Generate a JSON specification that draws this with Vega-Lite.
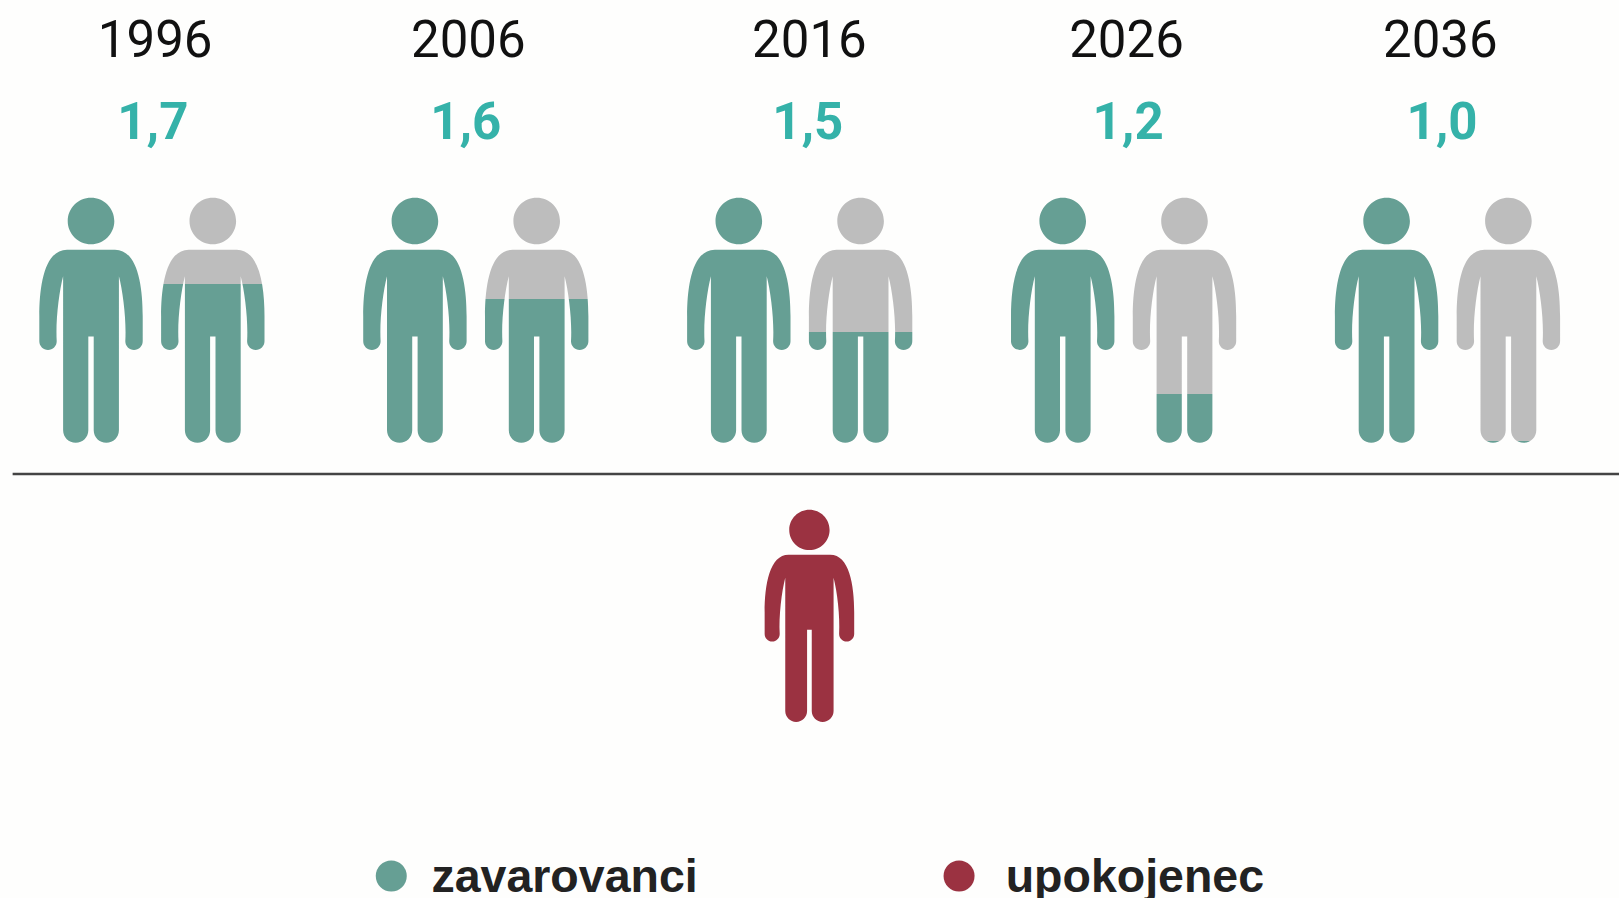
{
"$schema":"https://vega.github.io/schema/vega-lite/v6.json",
"width":1619,"height":898,"padding":0,"autosize":{"type":"none"},
"background":"#fefefd",
"config":{"view":{"stroke":null}},
"params":[{"name":"figure","value":"M0,-122.5 A23.3,23.3 0 1 1 0,-75.9 A23.3,23.3 0 1 1 0,-122.5 Z M-24,-70.5 L24,-70.5 C46,-70.5 51.7,-36 51.7,-4 L51.7,21 A8.7,8.7 0 0 1 34.3,21 C35.5,0 32,-28 27.9,-44 L27.9,110 A12.6,12.6 0 0 1 2.7,110 L2.7,16.2 L-2.7,16.2 L-2.7,110 A12.6,12.6 0 0 1 -27.9,110 L-27.9,-44 C-32,-28 -35.5,0 -34.3,21 A8.7,8.7 0 0 1 -51.7,21 L-51.7,-4 C-51.7,-36 -46,-70.5 -24,-70.5 Z"}],
"datasets":{
"people":[
{"year":1996,"pos":1994.12,"lane":320.2,"share":1},
{"year":1996,"pos":1997.88,"lane":320.2,"share":0.648},
{"year":2006,"pos":2004.12,"lane":320.2,"share":1},
{"year":2006,"pos":2007.88,"lane":320.2,"share":0.587},
{"year":2016,"pos":2014.12,"lane":320.2,"share":1},
{"year":2016,"pos":2017.88,"lane":320.2,"share":0.453},
{"year":2026,"pos":2024.12,"lane":320.2,"share":1},
{"year":2026,"pos":2027.88,"lane":320.2,"share":0.2},
{"year":2036,"pos":2034.12,"lane":320.2,"share":1},
{"year":2036,"pos":2037.88,"lane":320.2,"share":0.007}
],
"retiree":[{"pos":2016.3,"lane":615.8}],
"years":[
{"label":"1996","ratio":"1,7","pos":1996.1,"ratioPos":1996.03,"yearLane":57,"ratioLane":139},
{"label":"2006","ratio":"1,6","pos":2005.77,"ratioPos":2005.69,"yearLane":57,"ratioLane":139},
{"label":"2016","ratio":"1,5","pos":2016.3,"ratioPos":2016.25,"yearLane":57,"ratioLane":139},
{"label":"2026","ratio":"1,2","pos":2026.09,"ratioPos":2026.14,"yearLane":57,"ratioLane":139},
{"label":"2036","ratio":"1,0","pos":2035.78,"ratioPos":2035.83,"yearLane":57,"ratioLane":139}
],
"axisLine":[{"from":1991.7,"to":2041.295,"lane":474}],
"legend":[
{"name":"zavarovanci","dot":2003.39,"textPos":2004.63,"lane":876,"base":891.5},
{"name":"upokojenec","dot":2020.92,"textPos":2022.36,"lane":876,"base":891.5}
]
},
"layer":[
{"data":{"name":"people"},"transform":[{"filter":"datum.share==1"}],
 "mark":{"type":"point","filled":true,"opacity":1,"size":4,"strokeWidth":0,"fill":"#669f94","shape":{"expr":"figure"}},
 "encoding":{
  "x":{"field":"pos","type":"quantitative","scale":{"domain":[1991.31,2041.295],"range":[0,1619]},"axis":null},
  "y":{"field":"lane","type":"quantitative","scale":{"domain":[0,898],"range":[0,898]},"axis":null}}},
{"data":{"name":"people"},"transform":[{"filter":"datum.year==1996&&datum.share<1"}],
 "mark":{"type":"point","filled":true,"opacity":1,"size":4,"strokeWidth":0,"shape":{"expr":"figure"},
  "fill":{"gradient":"linear","x1":0,"y1":0,"x2":0,"y2":1,"stops":[{"offset":0,"color":"#bdbdbd"},{"offset":0.352,"color":"#bdbdbd"},{"offset":0.352,"color":"#669f94"},{"offset":1,"color":"#669f94"}]}},
 "encoding":{"x":{"field":"pos","type":"quantitative","scale":{"domain":[1991.31,2041.295],"range":[0,1619]},"axis":null},"y":{"field":"lane","type":"quantitative","scale":{"domain":[0,898],"range":[0,898]},"axis":null}}},
{"data":{"name":"people"},"transform":[{"filter":"datum.year==2006&&datum.share<1"}],
 "mark":{"type":"point","filled":true,"opacity":1,"size":4,"strokeWidth":0,"shape":{"expr":"figure"},
  "fill":{"gradient":"linear","x1":0,"y1":0,"x2":0,"y2":1,"stops":[{"offset":0,"color":"#bdbdbd"},{"offset":0.413,"color":"#bdbdbd"},{"offset":0.413,"color":"#669f94"},{"offset":1,"color":"#669f94"}]}},
 "encoding":{"x":{"field":"pos","type":"quantitative","scale":{"domain":[1991.31,2041.295],"range":[0,1619]},"axis":null},"y":{"field":"lane","type":"quantitative","scale":{"domain":[0,898],"range":[0,898]},"axis":null}}},
{"data":{"name":"people"},"transform":[{"filter":"datum.year==2016&&datum.share<1"}],
 "mark":{"type":"point","filled":true,"opacity":1,"size":4,"strokeWidth":0,"shape":{"expr":"figure"},
  "fill":{"gradient":"linear","x1":0,"y1":0,"x2":0,"y2":1,"stops":[{"offset":0,"color":"#bdbdbd"},{"offset":0.547,"color":"#bdbdbd"},{"offset":0.547,"color":"#669f94"},{"offset":1,"color":"#669f94"}]}},
 "encoding":{"x":{"field":"pos","type":"quantitative","scale":{"domain":[1991.31,2041.295],"range":[0,1619]},"axis":null},"y":{"field":"lane","type":"quantitative","scale":{"domain":[0,898],"range":[0,898]},"axis":null}}},
{"data":{"name":"people"},"transform":[{"filter":"datum.year==2026&&datum.share<1"}],
 "mark":{"type":"point","filled":true,"opacity":1,"size":4,"strokeWidth":0,"shape":{"expr":"figure"},
  "fill":{"gradient":"linear","x1":0,"y1":0,"x2":0,"y2":1,"stops":[{"offset":0,"color":"#bdbdbd"},{"offset":0.8,"color":"#bdbdbd"},{"offset":0.8,"color":"#669f94"},{"offset":1,"color":"#669f94"}]}},
 "encoding":{"x":{"field":"pos","type":"quantitative","scale":{"domain":[1991.31,2041.295],"range":[0,1619]},"axis":null},"y":{"field":"lane","type":"quantitative","scale":{"domain":[0,898],"range":[0,898]},"axis":null}}},
{"data":{"name":"people"},"transform":[{"filter":"datum.year==2036&&datum.share<1"}],
 "mark":{"type":"point","filled":true,"opacity":1,"size":4,"strokeWidth":0,"shape":{"expr":"figure"},
  "fill":{"gradient":"linear","x1":0,"y1":0,"x2":0,"y2":1,"stops":[{"offset":0,"color":"#bdbdbd"},{"offset":0.993,"color":"#bdbdbd"},{"offset":0.993,"color":"#669f94"},{"offset":1,"color":"#669f94"}]}},
 "encoding":{"x":{"field":"pos","type":"quantitative","scale":{"domain":[1991.31,2041.295],"range":[0,1619]},"axis":null},"y":{"field":"lane","type":"quantitative","scale":{"domain":[0,898],"range":[0,898]},"axis":null}}},
{"data":{"name":"retiree"},
 "mark":{"type":"point","filled":true,"opacity":1,"size":3.0,"strokeWidth":0,"fill":"#9b3241","shape":{"expr":"figure"}},
 "encoding":{"x":{"field":"pos","type":"quantitative","scale":{"domain":[1991.31,2041.295],"range":[0,1619]},"axis":null},"y":{"field":"lane","type":"quantitative","scale":{"domain":[0,898],"range":[0,898]},"axis":null}}},
{"data":{"name":"axisLine"},
 "mark":{"type":"rule","color":"#444444","strokeWidth":2.5},
 "encoding":{"x":{"field":"from","type":"quantitative","scale":{"domain":[1991.31,2041.295],"range":[0,1619]},"axis":null},"x2":{"field":"to"},"y":{"field":"lane","type":"quantitative","scale":{"domain":[0,898],"range":[0,898]},"axis":null}}},
{"data":{"name":"years"},
 "mark":{"type":"text","font":"Roboto","fontSize":51,"color":"#111111","align":"center","baseline":"alphabetic"},
 "encoding":{"x":{"field":"pos","type":"quantitative","scale":{"domain":[1991.31,2041.295],"range":[0,1619]},"axis":null},"y":{"field":"yearLane","type":"quantitative","scale":{"domain":[0,898],"range":[0,898]},"axis":null},"text":{"field":"label"}}},
{"data":{"name":"years"},
 "mark":{"type":"text","font":"Roboto","fontWeight":"bold","fontSize":51,"color":"#35b2a9","align":"center","baseline":"alphabetic"},
 "encoding":{"x":{"field":"ratioPos","type":"quantitative","scale":{"domain":[1991.31,2041.295],"range":[0,1619]},"axis":null},"y":{"field":"ratioLane","type":"quantitative","scale":{"domain":[0,898],"range":[0,898]},"axis":null},"text":{"field":"ratio"}}},
{"data":{"name":"legend"},
 "mark":{"type":"point","filled":true,"opacity":1,"shape":"circle","size":961,"strokeWidth":0},
 "encoding":{"x":{"field":"dot","type":"quantitative","scale":{"domain":[1991.31,2041.295],"range":[0,1619]},"axis":null},"y":{"field":"lane","type":"quantitative","scale":{"domain":[0,898],"range":[0,898]},"axis":null},
  "color":{"field":"name","type":"nominal","legend":null,"scale":{"domain":["zavarovanci","upokojenec"],"range":["#669f94","#9b3241"]}}}},
{"data":{"name":"legend"},
 "mark":{"type":"text","font":"Liberation Sans","fontWeight":"bold","fontSize":46.5,"color":"#222222","align":"left","baseline":"alphabetic"},
 "encoding":{"x":{"field":"textPos","type":"quantitative","scale":{"domain":[1991.31,2041.295],"range":[0,1619]},"axis":null},"y":{"field":"base","type":"quantitative","scale":{"domain":[0,898],"range":[0,898]},"axis":null},"text":{"field":"name"}}}
]
}
